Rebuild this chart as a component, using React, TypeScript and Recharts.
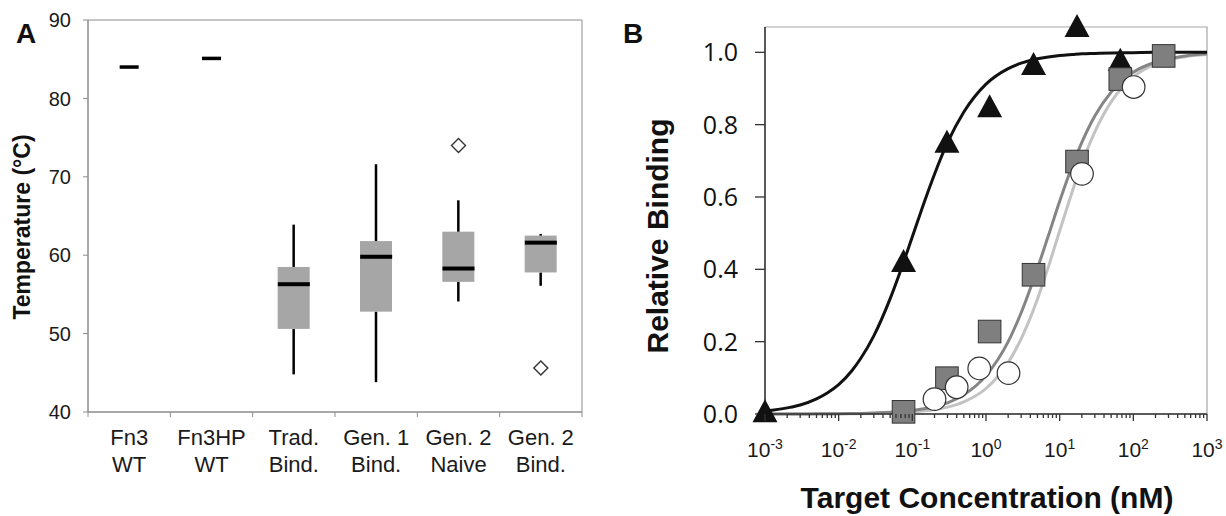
import React from 'react';
import {
  ComposedChart,
  Bar,
  Line,
  Scatter,
  XAxis,
  YAxis,
  ReferenceArea,
} from 'recharts';

// ---- Panel A: melting temperatures ----
const categories = ['Fn3 WT', 'Fn3HP WT', 'Trad. Bind.', 'Gen. 1 Bind.', 'Gen. 2 Naive', 'Gen. 2 Bind.'];
const tmMin = [84, 85.1, 44.8, 43.8, 54.1, 56.1];
const tmQ1 = [84, 85.1, 50.6, 52.8, 56.6, 57.8];
const tmMedian = [84, 85.1, 56.3, 59.8, 58.3, 61.6];
const tmQ3 = [84, 85.1, 58.5, 61.8, 63.0, 62.5];
const tmMax = [84, 85.1, 63.9, 71.6, 67.0, 62.7];
const tmOutlier = [null, null, null, null, 74, 45.6];
const tempTicks = [40, 50, 60, 70, 80, 90];

// ---- Panel B: binding curves ----
const triangleX = [0.001, 0.076, 0.295, 1.12, 4.42, 17.2, 66.5];
const triangleY = [0.005, 0.42, 0.75, 0.848, 0.965, 1.07, 0.977];
const squareX = [0.076, 0.295, 1.12, 4.42, 17.2, 66.5, 258];
const squareY = [0.006, 0.099, 0.228, 0.385, 0.698, 0.926, 0.99];
const circleX = [0.2, 0.4, 0.81, 2.02, 20.1, 101];
const circleY = [0.041, 0.074, 0.126, 0.113, 0.664, 0.904];

const curveX = [0.001, 0.002, 0.003, 0.005, 0.007, 0.01, 0.015, 0.02, 0.03, 0.05, 0.07, 0.1, 0.15, 0.2, 0.3, 0.5, 1, 2, 3, 5, 7, 10, 15, 20, 30, 50, 100, 200, 500, 1000];
const blackCurveY = [0.008, 0.017, 0.025, 0.042, 0.058, 0.081, 0.119, 0.154, 0.216, 0.319, 0.399, 0.49, 0.594, 0.663, 0.75, 0.835, 0.912, 0.955, 0.97, 0.982, 0.987, 0.991, 0.994, 0.996, 0.997, 0.998, 0.999, 1.0, 1.0, 1.0];
const grayCurveY = [0.0001, 0.0002, 0.0003, 0.0004, 0.0006, 0.0008, 0.0013, 0.0017, 0.0027, 0.0047, 0.0067, 0.0098, 0.015, 0.02, 0.031, 0.053, 0.106, 0.2, 0.28, 0.403, 0.492, 0.588, 0.689, 0.751, 0.824, 0.89, 0.945, 0.973, 0.99, 0.996];
const lightCurveY = [0.0, 0.0001, 0.0001, 0.0002, 0.0003, 0.0004, 0.0007, 0.0009, 0.0014, 0.0026, 0.0037, 0.0056, 0.0088, 0.0122, 0.019, 0.0336, 0.0705, 0.142, 0.208, 0.318, 0.406, 0.506, 0.618, 0.692, 0.78, 0.863, 0.932, 0.968, 0.988, 0.994];

const decades = [0.001, 0.01, 0.1, 1, 10, 100, 1000];
const minorSteps = [1, 2, 3, 4, 5, 6, 7, 8, 9];
const bindingTicks = [0, 0.2, 0.4, 0.6, 0.8, 1.0];

const FONT = "'Liberation Sans', Arial, sans-serif";
const AXIS_GRAY = '#8c8c8c';

const boxData = categories.map((name, i) => ({
  name,
  base: tmMin[i],
  lowWhisker: tmQ1[i] - tmMin[i],
  boxLow: tmMedian[i] - tmQ1[i],
  boxHigh: tmQ3[i] - tmMedian[i],
  highWhisker: tmMax[i] - tmQ3[i],
  median: tmMedian[i],
  outlier: tmOutlier[i],
  single: tmQ1[i] === tmQ3[i],
}));

const toPoints = (xs: number[], ys: number[]) => xs.map((x, i) => ({ x, y: ys[i] }));
const blackCurve = toPoints(curveX, blackCurveY);
const grayCurve = toPoints(curveX, grayCurveY);
const lightCurve = toPoints(curveX, lightCurveY);
const triangles = toPoints(triangleX, triangleY);
const squares = toPoints(squareX, squareY);
const circles = toPoints(circleX, circleY);

const logTicks: number[] = [];
decades.slice(0, -1).forEach((d) => minorSteps.forEach((m) => logTicks.push(+(d * m).toPrecision(6))));
logTicks.push(1000);

const Whisker = (props: any) => {
  const { x, y, width, height } = props;
  if (!height) return <g />;
  return <rect x={x + width / 2 - 1.25} y={y} width={2.5} height={height} fill="#000" />;
};

const BoxPart = (props: any) => {
  const { x, y, width, height } = props;
  if (!height) return <g />;
  return <rect x={x} y={y} width={width} height={height} fill="#a6a6a6" />;
};

const MedianMark = (props: any) => {
  const { cx, cy, payload } = props;
  const w = payload.single ? 19 : 32;
  const h = payload.single ? 3.5 : 4;
  return <rect x={cx - w / 2} y={cy - h / 2} width={w} height={h} fill="#000" />;
};

const Diamond = (props: any) => {
  const { cx, cy, payload } = props;
  if (payload.outlier == null || cx == null || cy == null || isNaN(cy)) return <g />;
  const r = 7;
  return (
    <polygon
      points={`${cx},${cy - r} ${cx + r},${cy} ${cx},${cy + r} ${cx - r},${cy}`}
      fill="#fff"
      stroke="#333"
      strokeWidth={1.4}
    />
  );
};

const CategoryTick = (props: any) => {
  const { x, y, payload, index, visibleTicksCount } = props;
  const label: string = payload.value;
  const cut = label.lastIndexOf(' ');
  const half = payload.offset ?? 0;
  return (
    <g>
      <line x1={x - half} x2={x - half} y1={y} y2={y + 5} stroke={AXIS_GRAY} />
      {index === visibleTicksCount - 1 && (
        <line x1={x + half} x2={x + half} y1={y} y2={y + 5} stroke={AXIS_GRAY} />
      )}
      <text textAnchor="middle" fontFamily={FONT} fontSize={22} fill="#1a1a1a">
        <tspan x={x} y={y + 33}>{label.slice(0, cut)}</tspan>
        <tspan x={x} y={y + 59.7}>{label.slice(cut + 1)}</tspan>
      </text>
    </g>
  );
};

const LogTick = (props: any) => {
  const { x, y, payload } = props;
  const v: number = payload.value;
  const exp = Math.round(Math.log10(v));
  const major = Math.abs(Math.log10(v) - exp) < 1e-6;
  return (
    <g>
      <line x1={x} x2={x} y1={y} y2={y + (major ? 7 : 4)} stroke="#333" strokeWidth={1.3} />
      {major && (
        <text x={x} y={y + 43} textAnchor="middle" fontFamily={FONT} fontSize={21} fill="#1a1a1a">
          10
          <tspan dy={-8} fontSize={14}>{exp}</tspan>
        </text>
      )}
    </g>
  );
};

const Triangle = (props: any) => {
  const { cx, cy } = props;
  return (
    <polygon
      points={`${cx},${cy - 13} ${cx + 12.5},${cy + 10} ${cx - 12.5},${cy + 10}`}
      fill="#111"
    />
  );
};

const Square = (props: any) => {
  const { cx, cy } = props;
  return <rect x={cx - 11.3} y={cy - 11.3} width={22.6} height={22.6} fill="#7f7f7f" stroke="#333" strokeWidth={1} />;
};

const Circle = (props: any) => {
  const { cx, cy } = props;
  return <circle cx={cx} cy={cy} r={11.3} fill="#fff" stroke="#333" strokeWidth={1.2} />;
};

const TemperaturePanel = () => (
  <ComposedChart width={600} height={516} data={boxData} margin={{ top: 20, right: 18, bottom: 0, left: 28 }}>
    <ReferenceArea y1={40} y2={90} fill="none" stroke={AXIS_GRAY} strokeWidth={1} ifOverflow="visible" />
    <XAxis
      dataKey="name"
      type="category"
      interval={0}
      tickLine={false}
      tickSize={0}
      tickMargin={0}
      height={104}
      axisLine={{ stroke: AXIS_GRAY }}
      tick={<CategoryTick />}
    />
    <YAxis
      type="number"
      domain={[40, 90]}
      ticks={tempTicks}
      allowDataOverflow
      width={60}
      tickSize={5}
      tickMargin={12}
      axisLine={{ stroke: AXIS_GRAY }}
      tickLine={{ stroke: AXIS_GRAY }}
      tick={{ fontFamily: FONT, fontSize: 20, fill: '#1a1a1a' }}
    />
    <Bar dataKey="base" stackId="box" barSize={32} shape={() => <g />} isAnimationActive={false} />
    <Bar dataKey="lowWhisker" stackId="box" barSize={32} shape={<Whisker />} isAnimationActive={false} />
    <Bar dataKey="boxLow" stackId="box" barSize={32} shape={<BoxPart />} isAnimationActive={false} />
    <Bar dataKey="boxHigh" stackId="box" barSize={32} shape={<BoxPart />} isAnimationActive={false} />
    <Bar dataKey="highWhisker" stackId="box" barSize={32} shape={<Whisker />} isAnimationActive={false} />
    <Scatter dataKey="median" shape={<MedianMark />} isAnimationActive={false} />
    <Scatter dataKey="outlier" shape={<Diamond />} isAnimationActive={false} />
  </ComposedChart>
);

const BindingPanel = () => (
  <ComposedChart width={626} height={516} margin={{ top: 27, right: 19, bottom: 0, left: 60 }}>
    <ReferenceArea x1={0.001} x2={1000} y1={0} y2={1.07} fill="none" stroke="#a6a6a6" strokeWidth={1.2} ifOverflow="visible" />
    <XAxis
      dataKey="x"
      type="number"
      scale="log"
      domain={[0.001, 1000]}
      ticks={logTicks}
      interval={0}
      tickLine={false}
      tickSize={0}
      tickMargin={0}
      height={102}
      axisLine={{ stroke: '#333', strokeWidth: 1.5 }}
      tick={<LogTick />}
    />
    <YAxis
      dataKey="y"
      type="number"
      domain={[0, 1.07]}
      ticks={bindingTicks}
      width={105}
      tickSize={10}
      tickMargin={17}
      tickFormatter={(v: number) => v.toFixed(1)}
      axisLine={{ stroke: '#333', strokeWidth: 1.5 }}
      tickLine={{ stroke: '#333', strokeWidth: 1.3 }}
      tick={{ fontFamily: "'Open Sans', sans-serif", fontSize: 25, fill: '#111' }}
    />
    <Line data={lightCurve} dataKey="y" type="monotone" stroke="#c3c3c3" strokeWidth={3} dot={false} activeDot={false} isAnimationActive={false} />
    <Line data={grayCurve} dataKey="y" type="monotone" stroke="#858585" strokeWidth={3} dot={false} activeDot={false} isAnimationActive={false} />
    <Line data={blackCurve} dataKey="y" type="monotone" stroke="#111" strokeWidth={3} dot={false} activeDot={false} isAnimationActive={false} />
    <Scatter data={triangles} dataKey="y" shape={<Triangle />} isAnimationActive={false} />
    <Scatter data={squares} dataKey="y" shape={<Square />} isAnimationActive={false} />
    <Scatter data={circles} dataKey="y" shape={<Circle />} isAnimationActive={false} />
  </ComposedChart>
);

export default function App() {
  return (
    <div style={{ position: 'absolute', left: 0, top: 0, width: 1226, height: 516, background: '#fff' }}>
      <div style={{ position: 'absolute', left: 0, top: 0 }}>
        <TemperaturePanel />
      </div>
      <div style={{ position: 'absolute', left: 600, top: 0 }}>
        <BindingPanel />
      </div>
      <svg width={1226} height={516} style={{ position: 'absolute', left: 0, top: 0, pointerEvents: 'none' }}>
        <text x={16} y={43} fontFamily={FONT} fontWeight="bold" fontSize={28} fill="#111">A</text>
        <text x={623} y={43} fontFamily={FONT} fontWeight="bold" fontSize={28} fill="#111">B</text>
        <text transform="translate(30,227) rotate(-90)" textAnchor="middle" fontFamily={FONT} fontWeight="bold" fontSize={23} fill="#111">
          Temperature (°C)
        </text>
        <text transform="translate(668,236) rotate(-90)" textAnchor="middle" fontFamily={FONT} fontWeight="bold" fontSize={30} fill="#111">
          Relative Binding
        </text>
        <text x={987} y={508} textAnchor="middle" fontFamily={FONT} fontWeight="bold" fontSize={30} fill="#111">
          Target Concentration (nM)
        </text>
      </svg>
    </div>
  );
}
